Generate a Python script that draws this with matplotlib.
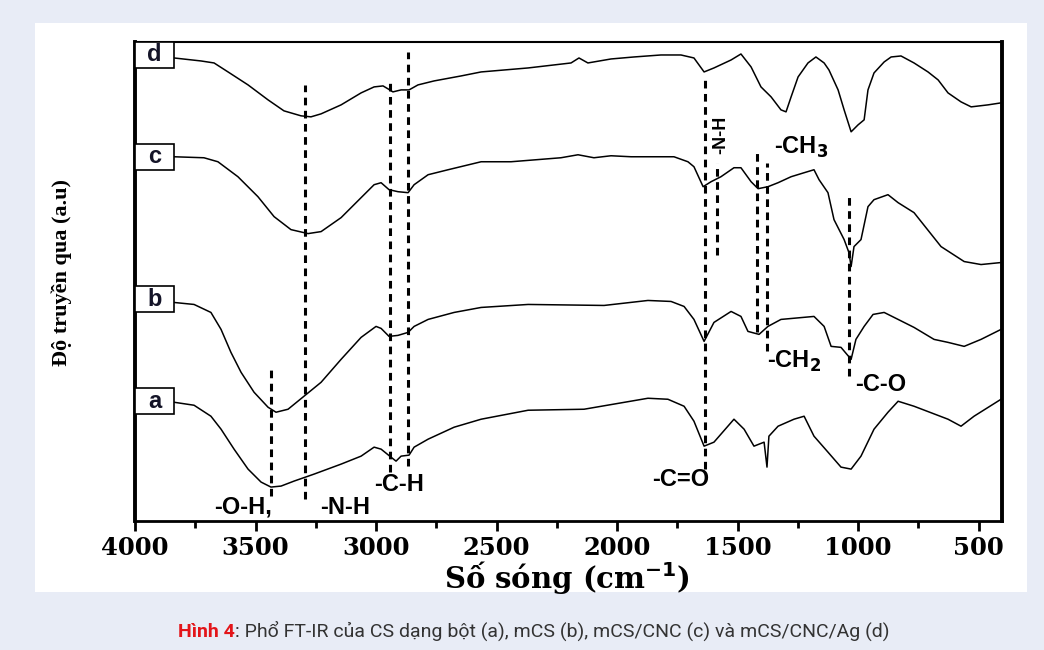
import matplotlib
matplotlib.use("Agg")
import matplotlib.pyplot as plt
from matplotlib.patches import Rectangle

# FT-IR spectra (wavenumber cm-1, transmittance a.u.)
wn_a = [3838, 3755, 3685, 3643, 3589, 3531, 3477, 3436, 3394, 3340,
        3257, 3145, 3062, 3008, 2979, 2938, 2917, 2896, 2863, 2842,
        2784, 2676, 2564, 2369, 2137, 1872, 1789, 1722, 1681, 1639,
        1598, 1515, 1473, 1432, 1390, 1378, 1370, 1332, 1266, 1224,
        1183, 1125, 1071, 1029, 988, 934, 876, 834, 768, 627,
        573, 519, 407]
t_a = [119, 116, 105, 92, 72, 52, 39, 34, 35, 40,
       47, 57, 65, 74, 72, 64, 60, 65, 66, 74,
       82, 94, 102, 111, 112, 123, 122, 115, 100, 75,
       79, 102, 92, 75, 79, 54, 85, 95, 102, 105,
       85, 69, 54, 52, 65, 92, 109, 120, 115, 102,
       95, 105, 122]

wn_b = [3838, 3755, 3685, 3643, 3602, 3560, 3506, 3448, 3415, 3365,
        3299, 3228, 3145, 3062, 3000, 2979, 2946, 2909, 2867, 2842,
        2784, 2676, 2564, 2369, 2054, 1872, 1776, 1722, 1681, 1639,
        1598, 1527, 1486, 1457, 1411, 1374, 1320, 1183, 1141, 1112,
        1071, 1029, 1009, 975, 938, 892, 834, 768, 685, 627,
        560, 490, 407]
t_b = [219, 217, 209, 192, 169, 149, 129, 114, 109, 112,
       125, 139, 162, 184, 195, 193, 185, 186, 189, 195,
       202, 209, 214, 217, 216, 221, 220, 215, 202, 180,
       199, 210, 205, 190, 187, 195, 202, 205, 195, 175,
       174, 162, 182, 195, 207, 209, 202, 194, 182, 179,
       175, 182, 192]

wn_c = [3838, 3714, 3656, 3573, 3490, 3423, 3353, 3282, 3228, 3145,
        3062, 3008, 2979, 2946, 2909, 2867, 2842, 2784, 2701, 2564,
        2440, 2233, 2162, 2096, 2025, 1942, 1764, 1706, 1681, 1643,
        1610, 1569, 1515, 1486, 1444, 1415, 1374, 1332, 1278, 1224,
        1183, 1162, 1125, 1100, 1058, 1038, 1029, 1017, 988, 959,
        934, 876, 834, 768, 656, 560, 490, 407]
t_c = [365, 364, 360, 345, 325, 305, 292, 288, 290, 304,
       324, 337, 339, 332, 330, 329, 337, 347, 352, 360,
       360, 364, 367, 364, 366, 365, 365, 360, 355, 335,
       340, 345, 354, 354, 340, 333, 335, 339, 345, 349,
       352, 342, 329, 302, 282, 269, 255, 275, 282, 315,
       322, 327, 319, 309, 275, 260, 257, 259]

wn_d = [3838, 3726, 3672, 3614, 3531, 3448, 3382, 3311, 3270, 3228,
        3145, 3062, 3008, 2971, 2950, 2930, 2896, 2863, 2826, 2759,
        2647, 2564, 2369, 2191, 2158, 2121, 2025, 1930, 1818, 1735,
        1681, 1639, 1598, 1527, 1486, 1444, 1403, 1361, 1320, 1299,
        1278, 1249, 1208, 1175, 1141, 1121, 1083, 1058, 1029, 1000,
        975, 959, 934, 892, 863, 822, 768, 710, 668, 627,
        573, 531, 461, 407]
t_d = [464, 461, 459, 450, 437, 422, 411, 406, 405, 408,
       417, 429, 435, 436, 433, 430, 432, 432, 437, 441,
       446, 450, 454, 459, 464, 459, 463, 465, 467, 467,
       464, 450, 454, 462, 468, 455, 435, 425, 412, 410,
       425, 445, 459, 465, 459, 452, 432, 412, 390, 397,
       402, 432, 449, 460, 465, 466, 459, 450, 442, 429,
       420, 415, 417, 419]

labels = ["a", "b", "c", "d"]
label_t = [120, 222, 365, 467]

# dashed guide lines: position, lower, upper
peak_wn = [3436, 3295, 2942, 2867, 1635, 1585, 1420, 1378, 1038]
peak_lo = [25, 22, 49, 55, 52, 267, 189, 170, 145]
peak_hi = [155, 437, 440, 470, 444, 359, 372, 359, 325]

xticks = [4000, 3500, 3000, 2500, 2000, 1500, 1000, 500]

fig = plt.figure(figsize=(10.44, 6.5), dpi=100)
fig.patch.set_facecolor("#e8ecf6")
fig.patches.append(Rectangle((35 / 1044, 58 / 650), 992 / 1044, 569 / 650,
                             transform=fig.transFigure, facecolor="white",
                             edgecolor="none", zorder=-5))

ax = fig.add_axes([135 / 1044, 129 / 650, 867 / 1044, 479 / 650])
ax.set_zorder(2)
ax.set_facecolor("white")

for wn, t in [(wn_a, t_a), (wn_b, t_b), (wn_c, t_c), (wn_d, t_d)]:
    ax.plot(wn, t, color="black", lw=1.1)

ax.vlines(peak_wn, peak_lo, peak_hi, colors="black", linestyles=(0, (2.5, 1.8)), lw=2.2)

for lab, t in zip(labels, label_t):
    ax.add_patch(Rectangle((3838, t - 13), 162, 26, facecolor="white",
                           edgecolor="black", lw=1.2, zorder=3))
    ax.text(3919, t, lab, ha="center", va="center", fontsize=17,
            fontweight="bold", color="#141428", zorder=4, family="Liberation Sans")

ann = dict(fontsize=17, fontweight="bold", family="Liberation Sans", ha="center", va="center")
ax.text(3552, 14, "-O-H,", **ann)
ax.text(3129, 14, "-N-H", **ann)
ax.text(2905, 37, "-C-H", **ann)
ax.text(1735, 42, "-C=O", **ann)
ax.text(1266, 160, r"-CH$_\mathbf{2}$", **ann)
ax.text(905, 137, "-C-O", **ann)
ax.text(1237, 374, r"-CH$_\mathbf{3}$", **ann)
ax.text(1569, 387, "-N-H", rotation=90, fontsize=13, fontweight="bold",
        family="Liberation Sans", ha="center", va="center")

ax.set_xlim(4000, 403)
ax.set_ylim(0, 480)
ax.set_xticks(xticks)
ax.set_xticks(range(3750, 400, -500), minor=True)
ax.set_yticks([])
ax.tick_params(axis="x", which="major", direction="out", length=7, width=2, pad=4)
ax.tick_params(axis="x", which="minor", direction="out", length=5, width=2)
for lbl in ax.get_xticklabels():
    lbl.set_family("DejaVu Serif")
    lbl.set_fontweight("bold")
    lbl.set_fontsize(17.5)

ax.spines["left"].set_linewidth(2.8)
ax.spines["right"].set_linewidth(2.8)
ax.spines["top"].set_linewidth(1.5)
ax.spines["bottom"].set_linewidth(2)

fig.text(567 / 1044, 73 / 650, "Số sóng (cm$^{\\mathbf{-1}}$)", ha="center", va="center",
         fontsize=21, fontweight="bold", family="DejaVu Serif")
fig.text(62 / 1044, 378 / 650, "Độ truyền qua (a.u)", rotation=90, ha="center",
         va="center", fontsize=16, fontweight="bold", family="Liberation Serif")

cap_font = ["Roboto", "DejaVu Sans"]
cap1 = fig.text(178 / 1044, 18 / 650, "Hình 4", ha="left", va="center", fontsize=14,
                fontweight="bold", color="#e3151a", family=cap_font)
ax.annotate(": Phổ FT-IR của CS dạng bột (a), mCS (b), mCS/CNC (c) và mCS/CNC/Ag (d)",
            xy=(1, 0), xycoords=cap1, ha="left", va="bottom", fontsize=14,
            color="#333333", family=cap_font, annotation_clip=False)

fig.savefig("out.png", dpi=100, facecolor=fig.get_facecolor())
